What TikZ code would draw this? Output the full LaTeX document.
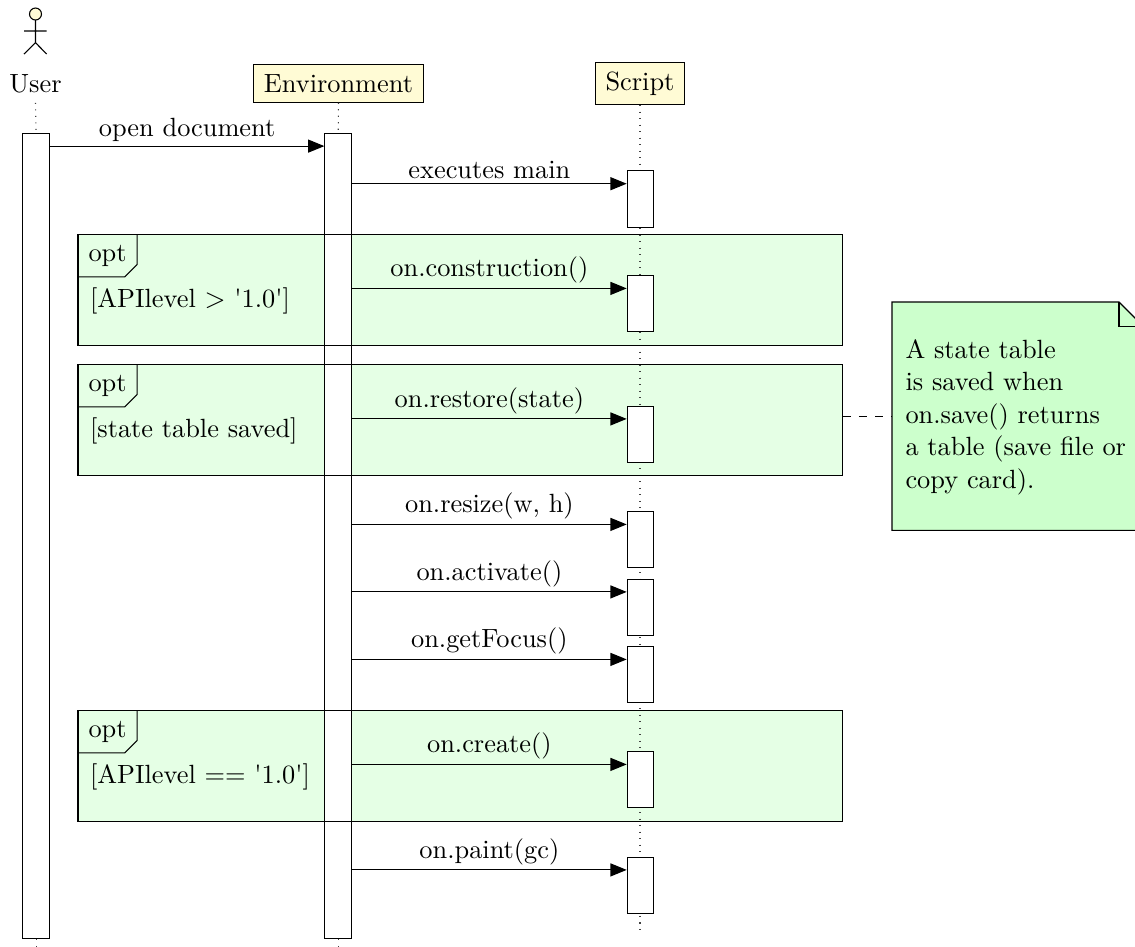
\documentclass[tikz,border=0pt]{standalone}
\usetikzlibrary{arrows.meta}
\definecolor{actorfill}{HTML}{FFFBD5}
\definecolor{framefill}{HTML}{E5FFE5}
\definecolor{notefill}{HTML}{CCFFCC}
\def\px{0.37pt}
\tikzset{
  participant/.style={draw,fill=actorfill,inner xsep=3.6pt,inner ysep=3.45pt},
  lifeline/.style={dotted,draw=black!75},
  activation/.style={draw,fill=white,inner sep=0pt,anchor=north west,minimum width=26.6*\px},
  optframe/.style={fill=framefill,inner sep=0pt,anchor=north west,minimum width=763.5*\px,minimum height=110*\px},
  msgline/.style={-{Triangle[length=6pt,width=4.8pt]}},
  msglabel/.style={midway,above,inner sep=1.6pt},
  tagtext/.style={anchor=base west,inner sep=0pt},
}
\newcommand{\optdecor}[2]{%
  \draw (#1.north west) rectangle (#1.south east);
  \draw ([xshift=59.2*\px]#1.north west) -- ++(0,30) -- ++(-12.3,12.3) -- ++(-46.9,0);
  \node[tagtext] (#1opt) at ([xshift=10*\px,yshift=-26.8*\px]#1.north west) {opt};
  \node[tagtext] (#1guard) at ([xshift=11.5*\px,yshift=-73.2*\px]#1.north west) {#2};
}
\begin{document}
\begin{tikzpicture}[x=0.37pt,y=-0.37pt,font=\fontsize{9.75}{12}\selectfont]
\useasboundingbox (0,0) rectangle (1135,947);
% frame backgrounds
\node[optframe] (fa) at (78,234.5) {};
\node[optframe] (fb) at (78,364.5) {};
\node[optframe] (fc) at (78,710.5) {};
% actor
\draw[fill=actorfill] (35.5,14) circle (6);
\draw (35.5,20) -- (35.5,42.7) (24,31) -- (46.7,31) (24,54) -- (35.5,42.7) -- (46.7,54);
% participants
\node (user) at (35.5,84) {User};
\node[participant,minimum width=170.5*\px,minimum height=37.4*\px] (env) at (338.5,83.5) {Environment};
\node[participant] (script) at (640,83.4) {Script};
% bars of the long lifelines
\node[activation,minimum height=805.6*\px] (ubar) at (22.2,132.7) {};
\node[activation,minimum height=805.6*\px] (ebar) at (324.4,132.7) {};
\coordinate (uend) at (ubar.south |- 0,946);
\coordinate (eend) at (ebar.south |- 0,946);
\coordinate (send) at (640,931);
\draw[lifeline] (user.south) -- (ubar.north);
\draw[lifeline] (env.south) -- (ebar.north);
\draw[lifeline] (ubar.south) -- (uend);
\draw[lifeline] (ebar.south) -- (eend);
\draw[lifeline] (script.south) -- (send);
% messages
\foreach \n/\t/\lab in {1/170.3/executes main,2/275/on.construction(),3/405.5/on.restore(state),4/511/{on.resize(w, h)},5/578.5/on.activate(),6/646/on.getFocus(),7/751/on.create(),8/856.5/on.paint(gc)}{
  \node[activation,minimum height=56.4*\px] (c\n) at (626.7,\t) {};
  \path (c\n.north west) ++(0,13.4) coordinate (in\n);
  \draw[msgline] (ebar.east |- in\n) -- node[msglabel] (m\n) {\lab} (in\n);
}
\path (ebar.north west) ++(0,13.4) coordinate (in0);
\draw[msgline] (ubar.east |- in0) -- node[msglabel] (m0) {open document} (in0);
% frames
\optdecor{fa}{[APIlevel $>$ \textquotesingle 1.0\textquotesingle]}
\optdecor{fb}{[state table saved]}
\optdecor{fc}{[APIlevel == \textquotesingle 1.0\textquotesingle]}
% note
\node[inner sep=0pt,anchor=north west,minimum width=252*\px,minimum height=227.3*\px] (note) at (892,302) {};
\draw[fill=notefill] (note.north west) -- (1119,302) -- (1144,327) -- (note.south east) -- (note.south west) -- cycle;
\draw (1119,302) -- (1119,326.7) -- (1144,326.7);
\node[anchor=north west,align=left,inner sep=0pt] (notetext) at (905,339) {A state table\\is saved when\\on.save() returns\\a table (save file or\\copy card).};
\draw[dashed] (fb.east |- 0,416.7) -- (note.west |- 0,416.7);
\end{tikzpicture}
\end{document}
